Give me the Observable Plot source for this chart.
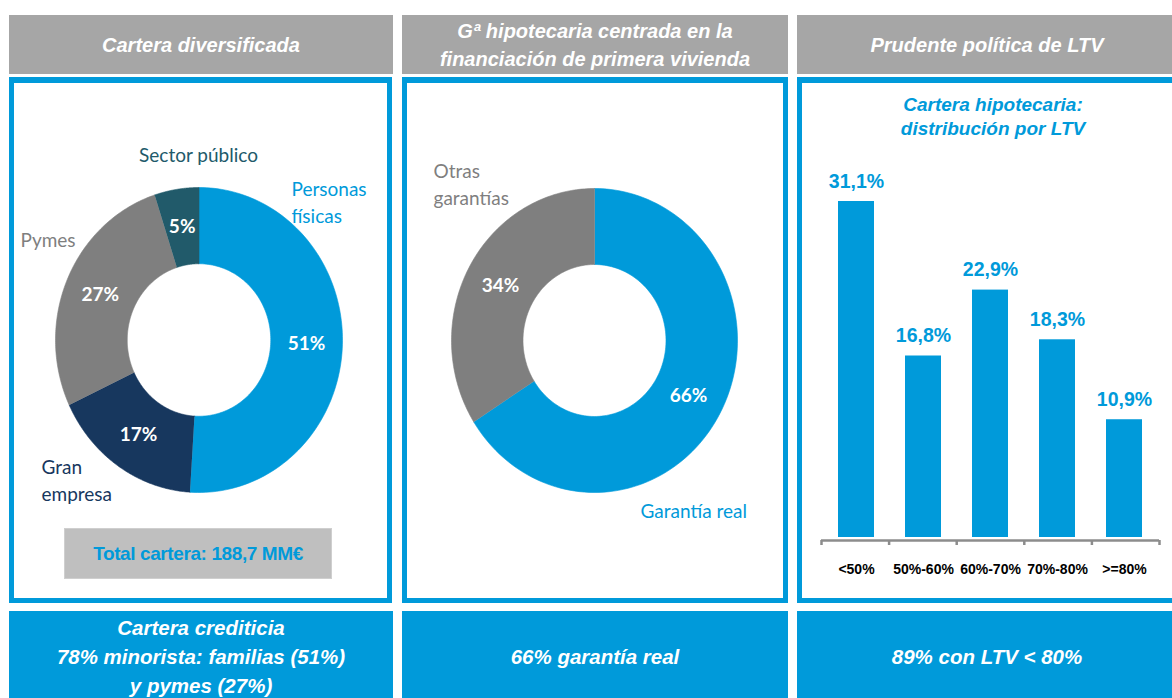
<!DOCTYPE html>
<html><head><meta charset="utf-8">
<script src="https://cdn.jsdelivr.net/npm/d3@7"></script>
<script src="https://cdn.jsdelivr.net/npm/@observablehq/plot@0.6"></script>
<style>
body{margin:0;background:#fff;}
#root{position:relative;width:1172px;height:698px;overflow:hidden;font-family:"Liberation Sans",Arial,sans-serif;}
.hdr{position:absolute;top:15px;height:59px;background:#A6A6A6;color:#fff;font-style:italic;font-weight:bold;font-size:20px;display:flex;align-items:center;justify-content:center;text-align:center;line-height:28px;}
.panel{position:absolute;top:77px;height:526px;box-sizing:border-box;border:5px solid #009ADA;border-top-width:6px;background:#fff;}
.ftr{position:absolute;top:611px;height:87px;background:#009ADA;color:#fff;font-style:italic;font-weight:bold;font-size:20.5px;display:flex;align-items:center;justify-content:center;text-align:center;line-height:29px;box-sizing:border-box;padding-top:4px;}
.layer{position:absolute;left:0;top:0;width:1172px;height:698px;pointer-events:none;}
.layer svg{overflow:visible;}
#total{position:absolute;left:64px;top:528px;width:268px;height:51px;background:#BFBFBF;border:1px solid #CFCFCF;box-sizing:border-box;color:#009ADA;font-weight:bold;font-size:19px;display:flex;align-items:center;justify-content:center;letter-spacing:-0.4px;}
#ltvTitle{position:absolute;left:873px;width:240px;top:93px;color:#009ADA;font-weight:bold;font-style:italic;font-size:19px;line-height:24px;text-align:center;}
</style>
</head>
<body>
<div id="root">
  <div class="hdr" style="left:9px;width:384px;">Cartera diversificada</div>
  <div class="hdr" style="left:402px;width:386px;">Gª hipotecaria centrada en la<br>financiación de primera vivienda</div>
  <div class="hdr" style="left:797px;width:380px;">Prudente política de LTV</div>

  <div class="panel" style="left:9px;width:383px;"></div>
  <div class="panel" style="left:402px;width:386px;"></div>
  <div class="panel" style="left:797px;width:385px;"></div>

  <div id="total">Total cartera: 188,7 MM€</div>
  <div id="ltvTitle">Cartera hipotecaria:<br>distribución por LTV</div>

  <div class="ftr" style="left:9px;width:384px;">Cartera crediticia<br>78% minorista: familias (51%)<br>y pymes (27%)</div>
  <div class="ftr" style="left:402px;width:386px;">66% garantía real</div>
  <div class="ftr" style="left:797px;width:380px;">89% con LTV &lt; 80%</div>

  <div class="layer" id="d1"></div>
  <div class="layer" id="d2"></div>
  <div class="layer" id="b1"></div>
  <div class="layer" id="b2"></div>
</div>
<script>
// ---------- DATA ----------
const carteraCats   = ["Personas\nfísicas", "Gran\nempresa", "Pymes", "Sector público"];
const carteraValues = [51, 17, 27, 5];
const carteraColors = ["#009ADA", "#17375E", "#7F7F7F", "#215A6A"];

const garantiaCats   = ["Garantía real", "Otras\ngarantías"];
const garantiaValues = [66, 34];
const garantiaColors = ["#009ADA", "#7F7F7F"];

const ltvCats   = ["<50%", "50%-60%", "60%-70%", "70%-80%", ">=80%"];
const ltvValues = [31.1, 16.8, 22.9, 18.3, 10.9];

// ---------- LAYOUT (pixel placement of donuts and their outside labels) ----------
const donut1 = {cx: 198.5, cy: 339.5, rx: 143.5, ry: 152.5, inner: 0.5};
const donut2 = {cx: 594, cy: 340, rx: 143, ry: 152, inner: 0.5};
const labels1 = [
  {px: 291, py: 200, anchor: "start", color: "#009ADA"},
  {px: 41,  py: 478, anchor: "start", color: "#17375E"},
  {px: 20,  py: 238, anchor: "start", color: "#7F7F7F"},
  {px: 198, py: 153, anchor: "middle", color: "#215A6A"}
];
const labels2 = [
  {px: 640, py: 509, anchor: "start", color: "#009ADA"},
  {px: 433, py: 182, anchor: "start", color: "#7F7F7F"}
];

const FONT_DONUT = "Lato, 'Open Sans', sans-serif";

function donutPlot(cats, values, colors, g, lab) {
  const data = cats.map((c, i) => ({cat: c, value: values[i], color: colors[i]}));
  const arcs = d3.pie().sort(null).value(d => d.value)(data);
  const N = 120;
  const sliceMarks = arcs.map(a => {
    const pts = [];
    for (let i = 0; i <= N; i++) {
      const t = a.startAngle + (a.endAngle - a.startAngle) * i / N;
      pts.push([Math.sin(t), Math.cos(t)]);
    }
    for (let i = N; i >= 0; i--) {
      const t = a.startAngle + (a.endAngle - a.startAngle) * i / N;
      pts.push([g.inner * Math.sin(t), g.inner * Math.cos(t)]);
    }
    return Plot.line(pts, {x: d => d[0], y: d => d[1], fill: a.data.color, stroke: a.data.color, strokeWidth: 0.6});
  });
  const mid = a => (a.startAngle + a.endAngle) / 2;
  const rMid = (1 + g.inner) / 2;
  const labelData = data.map((d, i) => ({
    text: d.cat,
    x: (lab[i].px - g.cx) / g.rx,
    y: (g.cy - lab[i].py) / g.ry,
    anchor: lab[i].anchor,
    color: lab[i].color
  }));
  return Plot.plot({
    width: 1172, height: 698, margin: 0,
    style: {background: "transparent", overflow: "visible"},
    x: {domain: [-1, 1], range: [g.cx - g.rx, g.cx + g.rx], axis: null},
    y: {domain: [-1, 1], range: [g.cy + g.ry, g.cy - g.ry], axis: null},
    marks: [
      ...sliceMarks,
      Plot.text(arcs, {
        x: a => rMid * Math.sin(mid(a)),
        y: a => rMid * Math.cos(mid(a)),
        text: a => a.data.value + "%",
        fill: "white", fontWeight: "bold", fontSize: 19, fontFamily: FONT_DONUT
      }),
      Plot.text(labelData.filter(d => d.anchor === "start"), {
        x: "x", y: "y", text: "text", fill: "color", textAnchor: "start",
        fontSize: 19, lineHeight: 1.42, fontFamily: FONT_DONUT
      }),
      Plot.text(labelData.filter(d => d.anchor === "middle"), {
        x: "x", y: "y", text: "text", fill: "color", textAnchor: "middle",
        fontSize: 19, lineHeight: 1.42, fontFamily: FONT_DONUT
      })
    ]
  });
}

document.getElementById("d1").append(donutPlot(carteraCats, carteraValues, carteraColors, donut1, labels1));
document.getElementById("d2").append(donutPlot(garantiaCats, garantiaValues, garantiaColors, donut2, labels2));

// ---------- LTV bar chart ----------
const BLUE = "#009ADA";
const ltvTable = ltvCats.map((c, i) => ({cat: c, value: ltvValues[i]}));
const fmt = v => v.toFixed(1).replace(".", ",") + "%";
const barPlot = Plot.plot({
  width: 1172, height: 698,
  marginLeft: 821, marginRight: 1172 - 1159, marginTop: 0, marginBottom: 0,
  style: {background: "transparent", overflow: "visible", fontFamily: "'Liberation Sans', Arial, sans-serif"},
  x: {domain: ltvCats, paddingInner: 0.467, paddingOuter: 0.233, axis: null},
  y: {domain: [0, 31.1], range: [537, 201], axis: null},
  marks: [
    Plot.barY(ltvTable, {x: "cat", y: "value", fill: BLUE}),
    Plot.text(ltvTable, {x: "cat", y: "value", text: d => fmt(d.value), dy: -20,
      fill: BLUE, fontWeight: "bold", fontSize: 19.5}),
    Plot.text(ltvTable, {x: "cat", y: 0, text: "cat", dy: 32,
      fill: "#000", fontWeight: "bold", fontSize: 14})
  ]
});
document.getElementById("b1").append(barPlot);

const axisPlot = Plot.plot({
  width: 1172, height: 698,
  marginLeft: 821, marginRight: 1172 - 1159, marginTop: 0, marginBottom: 0,
  style: {background: "transparent", overflow: "visible"},
  x: {domain: [0, ltvCats.length], axis: null},
  y: {domain: [0, 1], range: [540, 545], axis: null},
  marks: [
    Plot.ruleY([0], {stroke: "#8C8C8C", strokeWidth: 2.5}),
    Plot.ruleX(d3.range(ltvCats.length + 1), {x: d => d, y1: 0, y2: 1, stroke: "#8C8C8C", strokeWidth: 2.5})
  ]
});
document.getElementById("b2").append(axisPlot);
</script>
</body></html>
